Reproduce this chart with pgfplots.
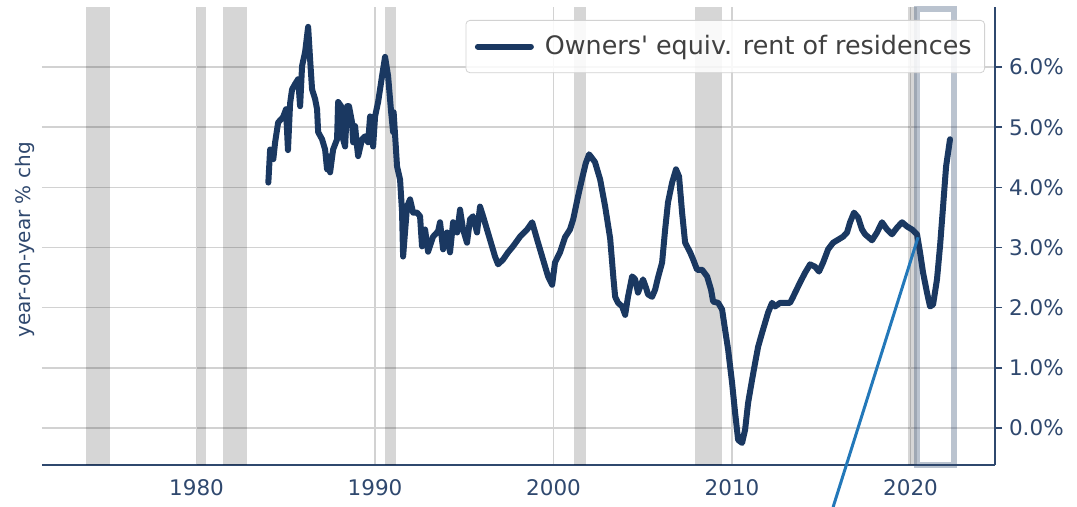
\documentclass[border=0pt]{standalone}
\usepackage{pgfplots}
\usepackage{pgfplotstable}
\pgfplotsset{compat=1.18}
\usepackage{fontspec}
\setmainfont{DejaVu Sans}
\definecolor{axc}{RGB}{47,72,110}
\definecolor{linec}{RGB}{26,56,97}
\definecolor{annc}{RGB}{35,120,185}
\definecolor{gridc}{RGB}{210,210,210}

\pgfplotstableread{
year val
1984.02 4.08
1984.12 4.63
1984.30 4.47
1984.40 4.75
1984.57 5.08
1984.85 5.17
1985.01 5.30
1985.12 4.62
1985.24 5.40
1985.35 5.63
1985.52 5.72
1985.69 5.80
1985.80 5.35
1985.91 6.02
1986.08 6.25
1986.25 6.67
1986.36 6.13
1986.47 5.63
1986.64 5.47
1986.75 5.30
1986.81 4.92
1987.03 4.80
1987.20 4.63
1987.31 4.30
1987.37 4.52
1987.48 4.25
1987.65 4.63
1987.87 4.80
1987.93 5.42
1988.10 5.35
1988.21 4.80
1988.32 4.68
1988.43 5.35
1988.54 5.35
1988.71 5.08
1988.77 4.75
1988.88 5.02
1988.99 4.68
1989.05 4.52
1989.27 4.80
1989.44 4.85
1989.61 4.75
1989.72 5.18
1989.89 4.68
1990.00 5.18
1990.17 5.42
1990.39 5.85
1990.56 6.17
1990.73 5.85
1990.90 5.25
1991.01 4.92
1991.04 5.25
1991.23 4.35
1991.40 4.13
1991.51 3.60
1991.57 2.85
1991.79 3.68
1991.96 3.80
1992.13 3.58
1992.35 3.58
1992.52 3.52
1992.63 3.02
1992.80 3.30
1992.97 2.93
1993.25 3.18
1993.53 3.27
1993.64 3.42
1993.81 2.97
1994.03 3.25
1994.20 2.92
1994.37 3.42
1994.60 3.25
1994.76 3.63
1994.93 3.30
1995.15 3.08
1995.32 3.47
1995.49 3.52
1995.71 3.25
1995.88 3.68
1996.05 3.52
1996.44 3.13
1996.72 2.85
1996.89 2.72
1997.17 2.80
1997.45 2.92
1997.73 3.02
1998.12 3.18
1998.52 3.30
1998.80 3.42
1999.08 3.13
1999.41 2.80
1999.69 2.52
1999.92 2.38
2000.08 2.75
2000.36 2.92
2000.64 3.17
2000.92 3.30
2001.10 3.47
2001.37 3.85
2001.60 4.15
2001.80 4.40
2001.99 4.55
2002.32 4.42
2002.61 4.13
2002.89 3.68
2003.17 3.15
2003.35 2.50
2003.45 2.18
2003.61 2.08
2003.84 2.02
2004.01 1.88
2004.17 2.18
2004.40 2.52
2004.57 2.47
2004.73 2.25
2005.01 2.47
2005.18 2.33
2005.29 2.22
2005.52 2.18
2005.69 2.30
2005.85 2.50
2006.08 2.75
2006.25 3.30
2006.41 3.75
2006.64 4.08
2006.86 4.30
2007.03 4.18
2007.20 3.58
2007.37 3.08
2007.65 2.92
2007.82 2.80
2008.04 2.63
2008.32 2.63
2008.60 2.52
2008.82 2.30
2008.94 2.10
2009.22 2.08
2009.44 1.97
2009.61 1.63
2009.78 1.30
2010.00 0.75
2010.17 0.25
2010.34 -0.20
2010.56 -0.25
2010.73 -0.03
2010.90 0.42
2011.12 0.80
2011.29 1.08
2011.46 1.35
2011.68 1.58
2011.85 1.75
2012.02 1.92
2012.24 2.08
2012.41 2.02
2012.69 2.08
2012.97 2.08
2013.25 2.08
2013.42 2.18
2013.81 2.42
2014.09 2.58
2014.37 2.72
2014.65 2.68
2014.87 2.60
2015.10 2.75
2015.38 2.97
2015.66 3.08
2015.94 3.13
2016.22 3.18
2016.44 3.25
2016.61 3.42
2016.83 3.58
2017.06 3.50
2017.28 3.30
2017.45 3.22
2017.84 3.12
2018.12 3.25
2018.40 3.42
2018.68 3.30
2018.96 3.22
2019.24 3.33
2019.52 3.42
2019.80 3.35
2020.08 3.30
2020.36 3.22
2020.53 2.92
2020.70 2.58
2020.92 2.25
2021.09 2.02
2021.26 2.05
2021.48 2.47
2021.65 3.02
2021.82 3.68
2021.99 4.35
2022.21 4.80
}\oer

\begin{document}
\begin{tikzpicture}
\begin{axis}[
  name=ax,
  scale only axis,
  width=476.5pt, height=229pt,
  xmin=1971.34, xmax=2024.73,
  ymin=-0.617, ymax=7.0,
  clip=false,
  axis x line*=bottom, axis y line*=right,
  axis line style={-, draw=axc, line width=0.9pt},
  xtick={1980,1990,2000,2010,2020},
  xticklabels={1980,1990,2000,2010,2020},
  ytick={0,1,2,3,4,5,6},
  yticklabels={0.0\%,1.0\%,2.0\%,3.0\%,4.0\%,5.0\%,6.0\%},
  x tick style={draw=none},
  y tick style={draw=axc, line width=0.8pt},
  tick align=outside,
  major tick length=3.5pt,
  grid=major,
  major grid style={draw=gridc, line width=0.8pt},
  ticklabel style={font=\fontsize{10.75}{13}\selectfont, text=axc},
  ylabel={year-on-year \% chg},
  ylabel style={at={(axis description cs:0,0.5)}, anchor=south, font=\fontsize{10}{12}\selectfont, text=axc, xshift=-2pt},
  legend style={at={(1,1)}, anchor=north east, xshift=-5pt, yshift=-6.5pt, draw=gridc, rounded corners=2pt, fill=white, fill opacity=0.85, text opacity=1, font=\fontsize{12.7}{15}\selectfont, text=black!75, inner xsep=4.5pt, inner ysep=5.5pt},
  legend image code/.code={\draw[#1, line width=3pt] (0pt,0pt) -- (26.5pt,0pt); \path (30pt,0pt);},
]
% recession bands
\addplot[fill=black, fill opacity=0.16, draw=none, forget plot] coordinates {(1973.83,-0.617) (1973.83,7.0) (1975.17,7.0) (1975.17,-0.617)};
\addplot[fill=black, fill opacity=0.16, draw=none, forget plot] coordinates {(1980.0,-0.617) (1980.0,7.0) (1980.5,7.0) (1980.5,-0.617)};
\addplot[fill=black, fill opacity=0.16, draw=none, forget plot] coordinates {(1981.5,-0.617) (1981.5,7.0) (1982.83,7.0) (1982.83,-0.617)};
\addplot[fill=black, fill opacity=0.16, draw=none, forget plot] coordinates {(1990.55,-0.617) (1990.55,7.0) (1991.17,7.0) (1991.17,-0.617)};
\addplot[fill=black, fill opacity=0.16, draw=none, forget plot] coordinates {(2001.17,-0.617) (2001.17,7.0) (2001.83,7.0) (2001.83,-0.617)};
\addplot[fill=black, fill opacity=0.16, draw=none, forget plot] coordinates {(2007.92,-0.617) (2007.92,7.0) (2009.42,7.0) (2009.42,-0.617)};
\addplot[fill=black, fill opacity=0.16, draw=none, forget plot] coordinates {(2019.88,-0.617) (2019.88,7.0) (2020.36,7.0) (2020.36,-0.617)};
% highlight rectangle
\addplot[draw=axc, draw opacity=0.33, line width=3pt, line join=miter, forget plot] coordinates {(2020.34,-0.617) (2020.34,6.97) (2022.42,6.97) (2022.42,-0.617)} -- cycle;
% main series
\addplot[linec, line width=3pt, line join=round, line cap=round] table[x=year, y=val] {\oer};
\addlegendentry{Owners\textquotesingle\ equiv. rent of residences}
% annotation line
\addplot[annc, line width=1.5pt, forget plot] coordinates {(2020.42,3.17) (2015.66,-1.317)};
\end{axis}
\pgfresetboundingbox
\path[use as bounding box] ([shift={(-21pt,-21pt)}]ax.south west) rectangle ([shift={(41pt,3.5pt)}]ax.north east);
\end{tikzpicture}
\end{document}
